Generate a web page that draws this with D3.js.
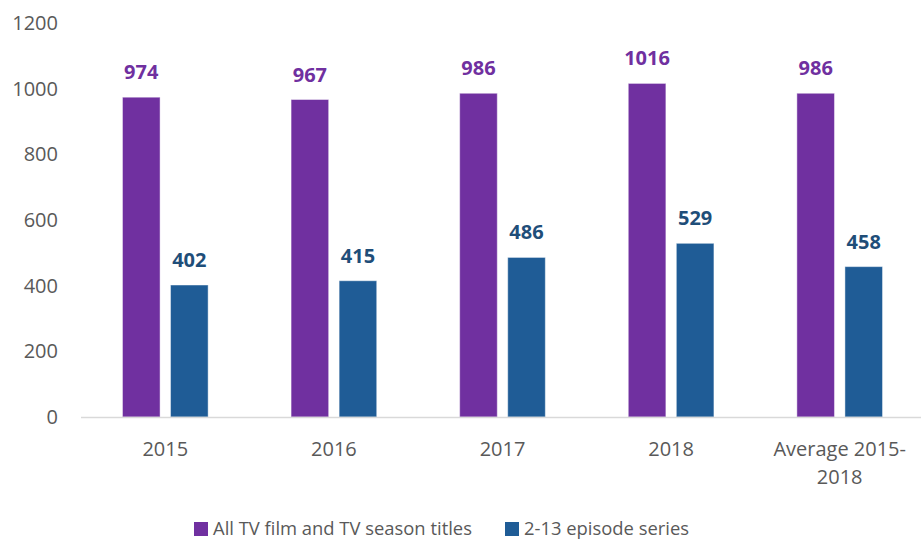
<!DOCTYPE html>
<html>
<head>
<meta charset="utf-8">
<script src="https://cdn.jsdelivr.net/npm/d3@7"></script>
<style>
  html, body { margin: 0; padding: 0; background: #fff; }
  svg { display: block; font-family: "Open Sans", sans-serif; }
</style>
</head>
<body>
<div id="chart"></div>
<script>
// ---- datos ---------------------------------------------------------------
const categories = [['2015'], ['2016'], ['2017'], ['2018'], ['Average 2015-', '2018']];
const seriesNames = ['All TV film and TV season titles', '2-13 episode series'];
const allTitles = [974, 967, 986, 1016, 986];
const episodeSeries = [402, 415, 486, 529, 458];
const yTicks = [0, 200, 400, 600, 800, 1000, 1200];

const COLORS = ['#7030a0', '#1f5c96'];
const LABEL_COLORS = ['#7030a0', '#1f4e79'];

// ---- layout ----------------------------------------------------------------
const W = 921, H = 540;
const X0 = 81, X1 = 924;
const Y_BASE = 417, Y_TOP = 23;

const svg = d3.select('#chart').append('svg')
  .attr('width', W).attr('height', H);

const x = d3.scaleBand().domain(d3.range(categories.length)).range([X0, X1]).padding(0);
const y = d3.scaleLinear().domain([0, 1200]).range([Y_BASE, Y_TOP]);

const barW = x.bandwidth() * 0.223;
const gap  = x.bandwidth() * 0.062;
const offs = [-gap / 2 - barW, gap / 2];

// eje y (solo etiquetas)
const yAxis = svg.append('g')
  .attr('transform', 'translate(62,0)')
  .call(d3.axisLeft(y).tickValues(yTicks).tickFormat(d3.format('d')).tickSize(0).tickPadding(4));
yAxis.select('.domain').remove();
yAxis.selectAll('text')
  .attr('font-family', '"Open Sans", sans-serif')
  .attr('font-size', '20px')
  .attr('fill', '#595959');

// barras
const series = [allTitles, episodeSeries];
series.forEach((vals, s) => {
  const g = svg.append('g');
  g.selectAll('rect').data(vals).join('rect')
    .attr('x', (d, i) => x(i) + x.bandwidth() / 2 + offs[s])
    .attr('y', d => y(d))
    .attr('width', barW)
    .attr('height', d => y(0) - y(d))
    .attr('fill', COLORS[s])
    .attr('stroke', '#fff').attr('stroke-opacity', 0.45).attr('stroke-width', 1);

  g.selectAll('text').data(vals).join('text')
    .attr('x', (d, i) => x(i) + x.bandwidth() / 2 + offs[s] + barW / 2)
    .attr('y', d => y(d) - 18)
    .attr('text-anchor', 'middle')
    .attr('font-size', '20px').attr('font-weight', 700)
    .attr('fill', LABEL_COLORS[s])
    .text(d => d);
});

// eje x
svg.append('line')
  .attr('x1', X0).attr('x2', W)
  .attr('y1', y(0) + 0.5).attr('y2', y(0) + 0.5)
  .attr('stroke', '#d9d9d9').attr('stroke-width', 1.5);

const xl = svg.append('g').selectAll('text').data(categories).join('text')
  .attr('x', (d, i) => x(i) + x.bandwidth() / 2)
  .attr('y', 456)
  .attr('text-anchor', 'middle')
  .attr('font-size', '20px')
  .attr('fill', '#595959');
xl.selectAll('tspan').data(d => d).join('tspan')
  .attr('x', function () { return this.parentNode.getAttribute('x'); })
  .attr('dy', (d, i) => i ? 28 : 0)
  .text(d => d);

// leyenda
const legendX = [194, 505];
const leg = svg.append('g').selectAll('g').data(seriesNames).join('g')
  .attr('transform', (d, i) => `translate(${legendX[i]},522)`);
leg.append('rect').attr('width', 14).attr('height', 14).attr('fill', (d, i) => COLORS[i]);
leg.append('text')
  .attr('x', 19).attr('y', 13)
  .attr('font-size', '18.4px').attr('fill', '#595959')
  .text(d => d);
</script>
</body>
</html>
